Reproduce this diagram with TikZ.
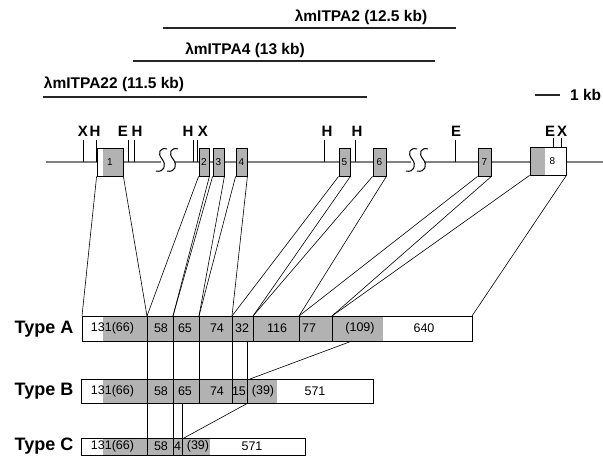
\documentclass[tikz,border=0pt]{standalone}
\usepackage{fontspec}
\setmainfont{Liberation Sans}
\begin{document}
\begin{tikzpicture}[x=1pt,y=-1pt,
  gfill/.style={fill=black!30},
  lab/.style={font=\bfseries\fontsize{15.5}{15.5}\selectfont, inner sep=0pt},
  site/.style={font=\bfseries\fontsize{15}{15}\selectfont, inner sep=0pt},
  typelab/.style={font=\bfseries\fontsize{18}{18}\selectfont, inner sep=0pt},
  num/.style={font=\fontsize{12.5}{12.5}\selectfont, inner sep=0pt},
  exon/.style={draw, line width=0.8pt, inner sep=0pt, font=\fontsize{10}{10}\selectfont},
  bar/.style={draw, line width=0.9pt, inner sep=0pt},
  conn/.style={line width=0.6pt},
  tick/.style={line width=0.9pt},
  clone/.style={line width=1.2pt, black!85},
  gline/.style={line width=2.2pt, black!50},
  brk/.style={line width=1pt},
]
\useasboundingbox (0,0) rectangle (603,465);

% clones
\coordinate (c2a) at (163,28); \coordinate (c2b) at (456,28);
\draw[clone] (c2a) -- (c2b);
\node[lab] (t2) at (361,17) {λmITPA2 (12.5 kb)};
\coordinate (c4a) at (133,61); \coordinate (c4b) at (435,61);
\draw[clone] (c4a) -- (c4b);
\node[lab] (t4) at (245,50) {λmITPA4 (13 kb)};
\coordinate (c22a) at (43,97); \coordinate (c22b) at (367,97);
\draw[clone] (c22a) -- (c22b);
\node[lab] (t22) at (114,84) {λmITPA22 (11.5 kb)};
\coordinate (sa) at (535,95); \coordinate (sb) at (560,95);
\draw[clone] (sa) -- (sb);
\node[lab, anchor=west] (skb) at (570,95) {1 kb};

% genomic line
\coordinate (g0) at (46,162); \coordinate (gb1) at (161,162); \coordinate (gb2) at (174,162);
\coordinate (gb3) at (411,162); \coordinate (gb4) at (424,162); \coordinate (g1) at (603,162);
\draw[gline] (g0) -- (gb1);
\draw[gline] (gb2) -- (gb3);
\draw[gline] (gb4) -- (g1);
\foreach \x in {157,168,407,418}{
  \draw[brk] (\x+10,149) .. controls (\x+3,147) and (\x,153) .. (\x+5,159)
     .. controls (\x+10,165) and (\x+7,173) .. (\x-1,171);
}

% restriction sites
\foreach \x in {83,96,128,134,193,197,324,355,455}{
  \draw[tick] (\x,140) -- (\x,162);
}
\foreach \x in {553,561}{ \draw[tick] (\x,138) -- (\x,148); }
\foreach \x/\t [count=\i] in {83/X,95/H,123/E,137/H,188/H,203/X,327/H,357/H,456/E,550/E,562/X}{
  \node[site] (s\i) at (\x,131) {\t};
}

% exons
\node[exon, fill=white, minimum width=26pt, minimum height=28pt,
  path picture={\fill[black!30] ([xshift=6pt]path picture bounding box.south west) rectangle (path picture bounding box.north east);}]
  (e1) at (110,162) {1};
\node[exon, gfill, minimum width=10pt, minimum height=28pt] (e2) at (204,162) {2};
\node[exon, gfill, minimum width=11pt, minimum height=28pt] (e3) at (218.5,162) {3};
\node[exon, gfill, minimum width=11pt, minimum height=28pt] (e4) at (241.5,162) {4};
\node[exon, gfill, minimum width=11pt, minimum height=28pt] (e5) at (344.5,162) {5};
\node[exon, gfill, minimum width=13pt, minimum height=28pt] (e6) at (379.5,162) {6};
\node[exon, gfill, minimum width=13pt, minimum height=28pt] (e7) at (484.5,162) {7};
\node[exon, fill=white, minimum width=36pt, minimum height=28pt,
  path picture={\fill[black!30] (path picture bounding box.south west) rectangle ([xshift=15pt]path picture bounding box.north west);}]
  (e8) at (548,161) {\hspace*{9pt}8};

% Type A
\fill[black!30] (103,316) rectangle (383,341);
\node[bar, minimum width=390pt, minimum height=25pt] (A) at (277,328.5) {};
\node[typelab] (tA) at (44,329) {Type A};
\foreach \x [count=\i] in {82,147,173,199,232,253,299,332,472}{
  \coordinate (aT\i) at (\x,316);
}
\foreach \x in {147,173,199,232,253,299,332}{ \draw[line width=0.8pt] (\x,316) -- (\x,341); }
\foreach \x/\t [count=\i] in {112.5/131(66),161/58,185/65,217/74,242/32,277/116,309/77,360/(109),424/640}{
  \node[num] (na\i) at (\x,328.5) {\t};
}

% Type B
\fill[black!30] (103,379) rectangle (277,403);
\node[bar, minimum width=292pt, minimum height=24pt] (B) at (227,391) {};
\node[typelab] (tB) at (44,391) {Type B};
\foreach \x in {147,173,199,232,247}{ \draw[line width=0.8pt] (\x,379) -- (\x,403); }
\foreach \x/\t [count=\i] in {112.5/131(66),161/58,185/65,217/74,239/15,263/(39),315/571}{
  \node[num] (nb\i) at (\x,391) {\t};
}

% Type C
\fill[black!30] (103,438) rectangle (210,455);
\node[bar, minimum width=224pt, minimum height=17pt] (C) at (193,446.5) {};
\node[typelab] (tC) at (44,446.5) {Type C};
\foreach \x in {147,173,182}{ \draw[line width=0.8pt] (\x,438) -- (\x,455); }
\foreach \x/\t [count=\i] in {112.5/131(66),161/58,177.5/4,198/(39),252/571}{
  \node[num] (nc\i) at (\x,446.5) {\t};
}

% connectors exons -> Type A
\draw[conn] (e1.south west) -- (aT1);
\draw[conn] (e1.south east) -- (aT2);
\draw[conn] (e2.south west) -- (aT2);
\draw[conn] (e2.south east) -- (aT3);
\draw[conn] (e3.south west) -- (aT3);
\draw[conn] (e3.south east) -- (aT4);
\draw[conn] (e4.south west) -- (aT4);
\draw[conn] (e4.south east) -- (aT5);
\draw[conn] (e5.south west) -- (aT5);
\draw[conn] (e5.south east) -- (aT6);
\draw[conn] (e6.south west) -- (aT6);
\draw[conn] (e6.south east) -- (aT7);
\draw[conn] (e7.south west) -- (aT7);
\draw[conn] (e7.south east) -- (aT8);
\draw[conn] (e8.south west) -- (aT8);
\draw[conn] (e8.south east) -- (aT9);

% A -> B
\foreach \x in {147,173,199,232,247}{
  \coordinate (ab\x) at (\x,341); \coordinate (bt\x) at (\x,379);
  \draw[conn] (ab\x) -- (bt\x);
}
\coordinate (abs) at (352,341); \coordinate (bts) at (250,379);
\draw[conn] (abs) -- (bts);

% B -> C
\foreach \x in {147,173,182}{
  \coordinate (bb\x) at (\x,403); \coordinate (ct\x) at (\x,438);
  \draw[conn] (bb\x) -- (ct\x);
}
\coordinate (bbs) at (248,403); \coordinate (cts) at (184,438);
\draw[conn] (bbs) -- (cts);
\end{tikzpicture}
\end{document}
